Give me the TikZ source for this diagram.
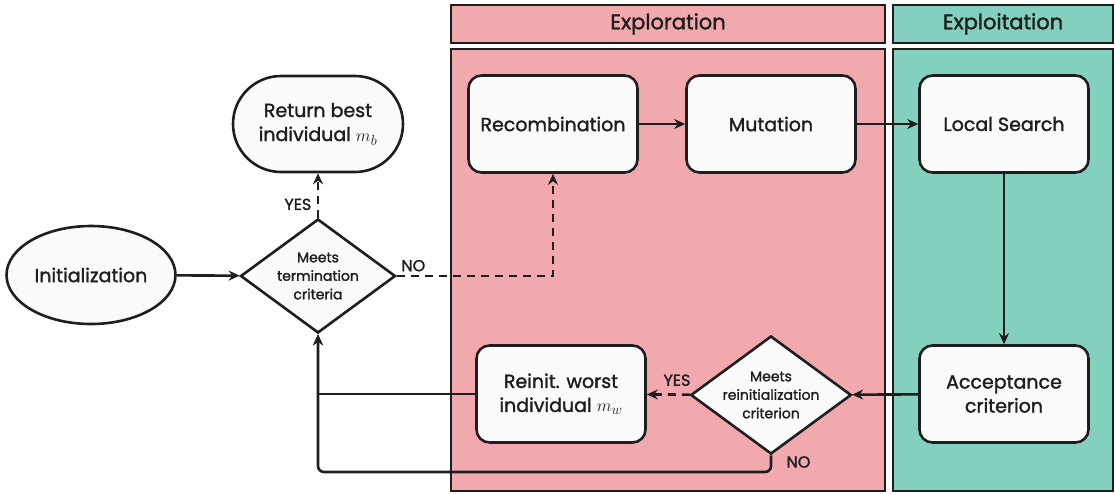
\documentclass[tikz,border=0pt]{standalone}
\usepackage{fontspec}
\setmainfont{Poppins}
\newfontfamily\heavyfont{Poppins}[FakeBold=1.5]
\usetikzlibrary{shapes.geometric,arrows.meta}

\definecolor{explore}{HTML}{F2A9AE}
\definecolor{exploit}{HTML}{84D0BE}
\definecolor{boxfill}{HTML}{FAFAFA}
\definecolor{ink}{HTML}{1E1E1E}

\tikzset{
  block/.style={draw=ink, line width=2.6pt, fill=boxfill, rounded corners=13pt,
    minimum width=169pt, minimum height=97pt, align=center, text=ink,
    font=\heavyfont\fontsize{19}{24}\selectfont},
  terminal/.style={block, rounded corners=48pt, minimum width=170pt, minimum height=96pt},
  startnode/.style={draw=ink, line width=2.6pt, fill=boxfill, ellipse, inner sep=0pt,
    minimum width=169pt, minimum height=98pt, text=ink, font=\heavyfont\fontsize{19}{24}\selectfont},
  decision/.style={draw=ink, line width=2.6pt, fill=boxfill, diamond, inner sep=0pt,
    aspect=1.36, minimum width=155pt, minimum height=114pt, align=center, text=ink,
    font=\heavyfont\fontsize{14}{18.5}\selectfont},
  panel/.style={draw=ink, line width=2.6pt},
  header/.style={font=\heavyfont\fontsize{21}{24}\selectfont, text=ink},
  flow/.style={line width=2.6pt, draw=ink, -{Stealth[length=11pt,width=10pt]}},
  answer/.style={font=\heavyfont\fontsize{16}{18}\selectfont, text=ink},
}

\begin{document}
\begin{tikzpicture}[x=1pt, y=-1pt]
        \useasboundingbox (0,0) rectangle (1115,493);

        % Panels
        \filldraw[panel, fill=explore] (451,5) rectangle (885,43);
        \filldraw[panel, fill=exploit] (893,5) rectangle (1113,43);
        \filldraw[panel, fill=explore] (451,49) rectangle (885,491);
        \filldraw[panel, fill=exploit] (893,49) rectangle (1113,491);
        \node[header] (hexplore) at (668,24) {Exploration};
        \node[header] (hexploit) at (1003,24) {Exploitation};

        % Nodes
        \node[startnode] (init) at (91,275) {Initialization};
        \node[decision] (term) at (318,276) {Meets\\termination\\criteria};
        \node[terminal] (best) at (318,124) {Return best\\individual $m_b$};
        \node[block] (recomb) at (553,124) {Recombination};
        \node[block] (mutate) at (771,124) {Mutation};
        \node[block] (local) at (1004,124) {Local Search};
        \node[block] (accept) at (1004,394) {Acceptance\\criterion};
        \node[decision] (reinit) at (771,395) {Meets\\reinitialization\\criterion};
        \node[block] (worst) at (561,394) {Reinit. worst\\individual $m_w$};

        % Arrows
        \draw[flow] (init) -- (term);
        \draw[flow, dashed, dash pattern=on 8pt off 6pt] (term) -- (best)
            node[pos=0.3, left, answer, xshift=-2pt] {YES};
        \draw[flow, dashed, dash pattern=on 8pt off 6pt] (term.east) -| (recomb.south)
            node[pos=0, above right, answer] {NO};
        \draw[flow] (recomb) -- (mutate);
        \draw[flow] (mutate) -- (local);
        \draw[flow] (local) -- (accept);
        \draw[flow] (accept) -- (reinit);
        \draw[flow, dashed, dash pattern=on 8pt off 6pt] (reinit) -- (worst)
            node[pos=0.3, above, answer, yshift=4pt] {YES};
        \draw[flow] (worst.west) -| (term.south);
        \draw[flow, rounded corners=6pt] (reinit.south) -- (reinit.south |- 0,472) -| (term.south);
        \node[answer, right] (nolabel) at (783,462) {NO};
\end{tikzpicture}
\end{document}
